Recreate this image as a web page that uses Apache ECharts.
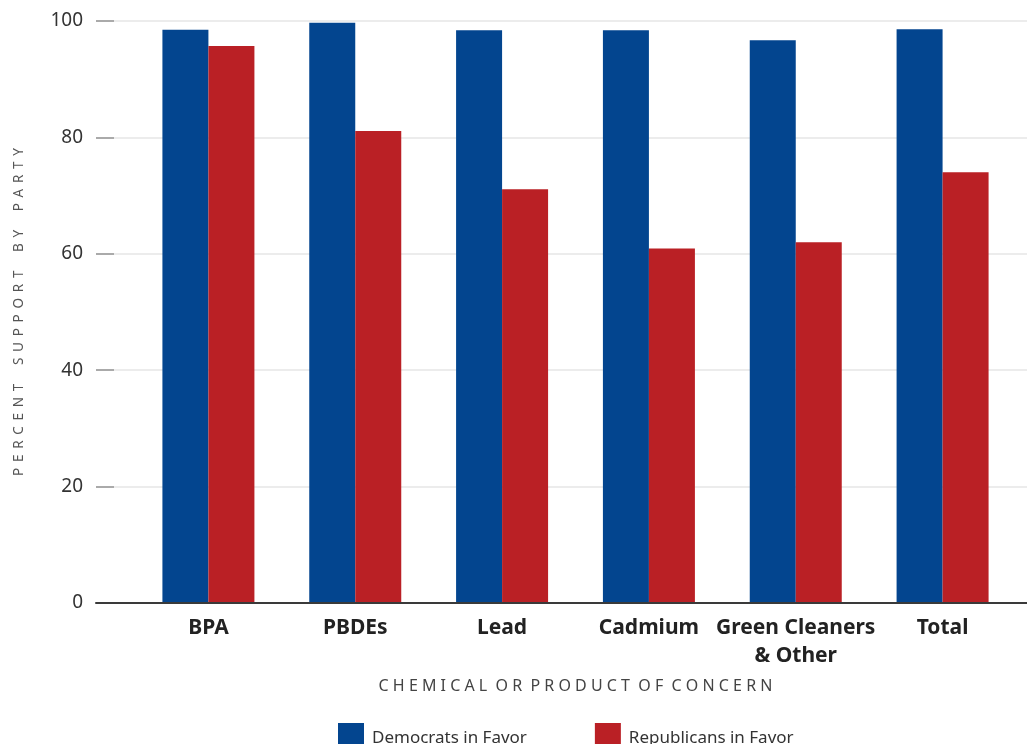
<!DOCTYPE html>
<html>
<head>
<meta charset="utf-8">
<script src="https://cdn.jsdelivr.net/npm/echarts@6/dist/echarts.min.js"></script>
<style>
  html, body { margin: 0; padding: 0; background: #fff; }
  #chart { width: 1027px; height: 744px; }
</style>
</head>
<body>
<div id="chart"></div>
<script>
// Support for chemical / product restrictions, by party (percent)
const categories = ['BPA', 'PBDEs', 'Lead', 'Cadmium', 'Green Cleaners\n& Other', 'Total'];
const democrats = [98.5, 99.7, 98.4, 98.4, 96.7, 98.6];
const republicans = [95.7, 81.1, 71.1, 60.9, 62.0, 74.0];
const yTicks = [0, 20, 40, 60, 80, 100];

const seriesNames = ['Democrats in Favor', 'Republicans in Favor'];
const xTitle = 'CHEMICAL OR PRODUCT OF CONCERN';
const yTitle = 'PERCENT SUPPORT BY PARTY';

// widen caption lettering: a gap between letters, a wider one between words
function tracked(s, gap, wordGap) {
  return s.split(' ').map(w => w.split('').join(gap)).join(wordGap);
}

const chart = echarts.init(document.getElementById('chart'));
const base = "'Noto Sans', 'DejaVu Sans', sans-serif";

chart.setOption({
  animation: false,
  backgroundColor: '#ffffff',
  grid: [
    // full-width frame for gridlines and baseline
    { left: 96, right: 0, top: 21, bottom: 141 },
    // bar area
    { left: 135, right: 11, top: 21, bottom: 141 }
  ],
  legend: {
    data: seriesNames,
    left: 338,
    top: 723,
    padding: 0,
    icon: 'rect',
    itemWidth: 26,
    itemHeight: 30,
    itemGap: 68,
    textStyle: { fontFamily: base, fontSize: 17, color: '#333', padding: [8, 0, 0, 3] }
  },
  xAxis: [
    {
      gridIndex: 0, type: 'value', min: 0, max: 1, z: 5,
      axisLine: { show: true, lineStyle: { color: '#3a3a3a', width: 2 } },
      axisTick: { show: false }, axisLabel: { show: false }, splitLine: { show: false }
    },
    {
      gridIndex: 1, type: 'category', data: categories,
      axisLine: { show: false }, axisTick: { show: false },
      axisLabel: {
        margin: 11, interval: 0,
        fontFamily: base, fontSize: 21, fontWeight: 'bold', color: '#222', lineHeight: 28
      },
      name: tracked(xTitle, ' ', '  '),
      nameLocation: 'middle', nameGap: 75,
      nameTextStyle: { fontFamily: base, fontSize: 16, color: '#444' }
    }
  ],
  yAxis: [
    {
      gridIndex: 0, type: 'value', min: yTicks[0], max: yTicks[yTicks.length - 1],
      interval: yTicks[1] - yTicks[0],
      axisLine: { show: false },
      axisTick: { show: true, inside: true, length: 18, lineStyle: { color: '#aaaaaa', width: 2 } },
      axisLabel: { margin: 13, fontFamily: base, fontSize: 19, color: '#333' },
      splitLine: { show: true, lineStyle: { color: '#e6e6e6', width: 1.5 } },
      name: tracked(yTitle, ' \u2009', ' \u2009  \u2009 '),
      nameLocation: 'middle', nameGap: 70, nameRotate: 90,
      nameTextStyle: { fontFamily: base, fontSize: 13.5, color: '#555' }
    },
    {
      gridIndex: 1, type: 'value', min: yTicks[0], max: yTicks[yTicks.length - 1],
      show: false
    }
  ],
  series: [
    {
      name: seriesNames[0], type: 'bar', xAxisIndex: 1, yAxisIndex: 1,
      data: democrats, barWidth: 46, barGap: '0%',
      itemStyle: { color: '#03458f' }
    },
    {
      name: seriesNames[1], type: 'bar', xAxisIndex: 1, yAxisIndex: 1,
      data: republicans, barWidth: 46, barGap: '0%',
      itemStyle: { color: '#ba2025' }
    }
  ]
});
</script>
</body>
</html>
